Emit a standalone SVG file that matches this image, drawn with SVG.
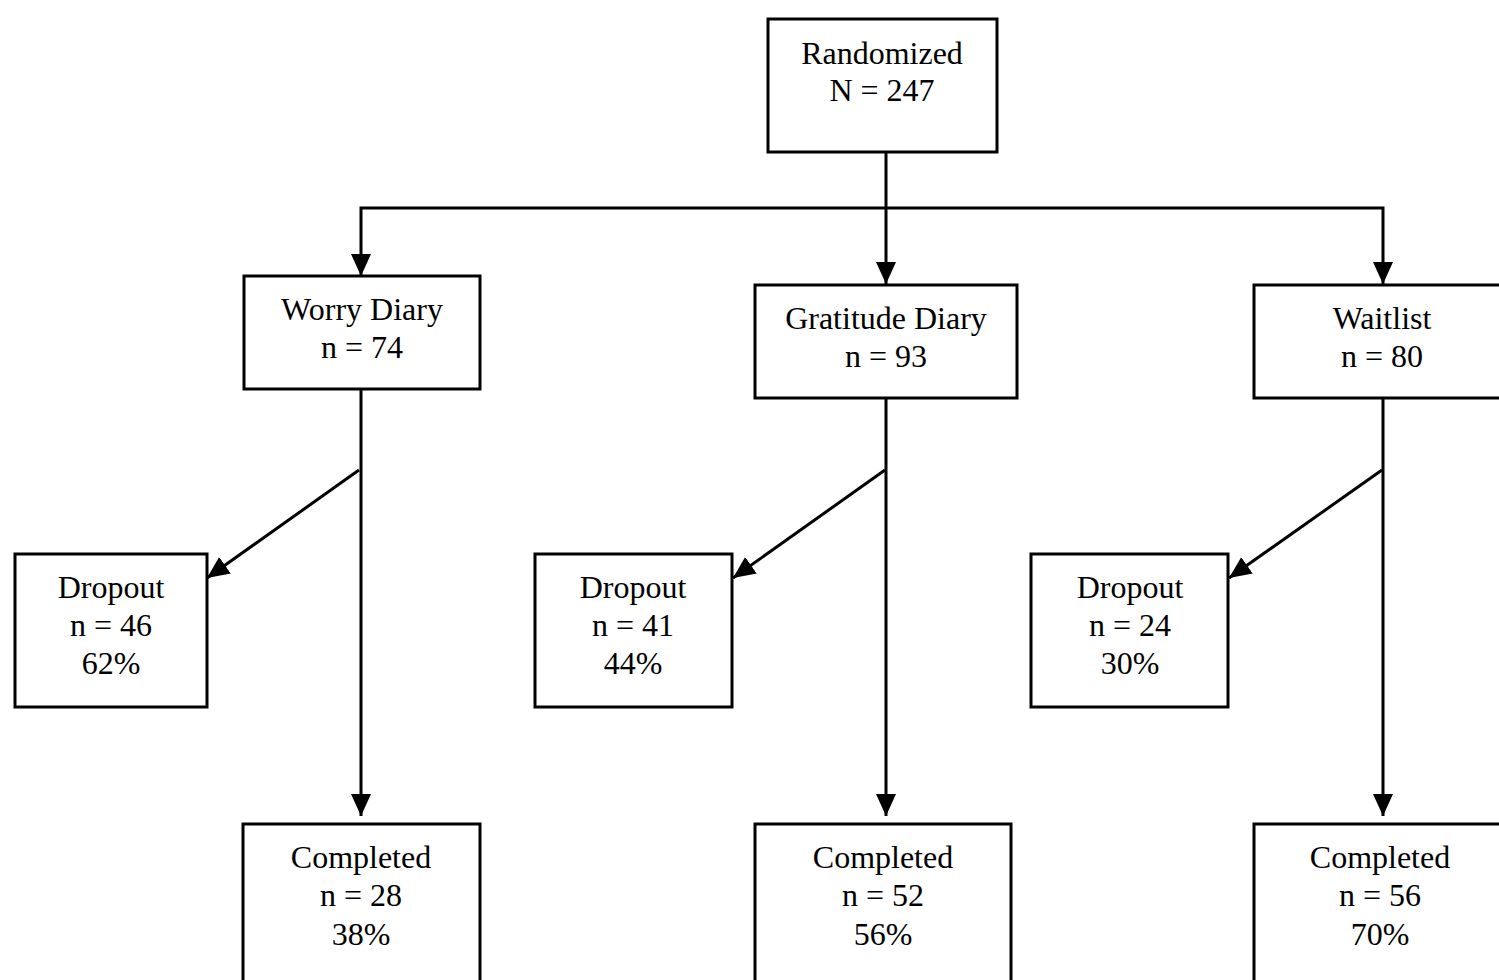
<svg xmlns="http://www.w3.org/2000/svg" width="1499" height="980" viewBox="0 0 1499 980">
<style>
.box{fill:#fff;stroke:#000;stroke-width:3}
.t{font-family:"Liberation Serif","Times New Roman",serif;font-size:32px;fill:#000;text-anchor:middle}
.c{fill:none;stroke:#000;stroke-width:3;stroke-linejoin:miter}
</style>
<defs>
<marker id="ah" markerUnits="userSpaceOnUse" markerWidth="24" markerHeight="22" refX="22" refY="10" orient="auto">
<path d="M0,0 L22,10 L0,20 z" fill="#000"/>
</marker>
</defs>
<rect width="1499" height="980" fill="#fff"/>
<g id="connectors">
<line class="c" x1="886" y1="152" x2="886" y2="284" marker-end="url(#ah)"/>
<path class="c" d="M886,208 L361,208 L361,276" marker-end="url(#ah)"/>
<path class="c" d="M886,208 L1383,208 L1383,284" marker-end="url(#ah)"/>
<line class="c" x1="361" y1="389" x2="361" y2="816" marker-end="url(#ah)"/>
<line class="c" x1="886" y1="398" x2="886" y2="816" marker-end="url(#ah)"/>
<line class="c" x1="1383" y1="398" x2="1383" y2="816" marker-end="url(#ah)"/>
<line class="c" x1="359" y1="470" x2="207" y2="578" marker-end="url(#ah)"/>
<line class="c" x1="885" y1="470" x2="733" y2="578" marker-end="url(#ah)"/>
<line class="c" x1="1382" y1="470" x2="1229" y2="578" marker-end="url(#ah)"/>
</g>
<g id="randomized">
<rect class="box" x="768" y="19" width="229" height="133"/>
<text class="t" x="882" y="64">Randomized</text>
<text class="t" x="882" y="101">N = 247</text>
</g>
<g id="worry">
<rect class="box" x="244" y="276" width="236" height="113"/>
<text class="t" x="362" y="320">Worry Diary</text>
<text class="t" x="362" y="358">n = 74</text>
</g>
<g id="gratitude">
<rect class="box" x="755" y="285" width="262" height="113"/>
<text class="t" x="886" y="329">Gratitude Diary</text>
<text class="t" x="886" y="367">n = 93</text>
</g>
<g id="waitlist">
<rect class="box" x="1254" y="285" width="260" height="113"/>
<text class="t" x="1382" y="329">Waitlist</text>
<text class="t" x="1382" y="367">n = 80</text>
</g>
<g id="dropout-worry">
<rect class="box" x="15" y="554" width="192" height="153"/>
<text class="t" x="111" y="598">Dropout</text>
<text class="t" x="111" y="636">n = 46</text>
<text class="t" x="111" y="674">62%</text>
</g>
<g id="dropout-gratitude">
<rect class="box" x="535" y="554" width="197" height="153"/>
<text class="t" x="633" y="598">Dropout</text>
<text class="t" x="633" y="636">n = 41</text>
<text class="t" x="633" y="674">44%</text>
</g>
<g id="dropout-waitlist">
<rect class="box" x="1031" y="554" width="197" height="153"/>
<text class="t" x="1130" y="598">Dropout</text>
<text class="t" x="1130" y="636">n = 24</text>
<text class="t" x="1130" y="674">30%</text>
</g>
<g id="completed-worry">
<rect class="box" x="243" y="824" width="237" height="200"/>
<text class="t" x="361" y="868">Completed</text>
<text class="t" x="361" y="906">n = 28</text>
<text class="t" x="361" y="945">38%</text>
</g>
<g id="completed-gratitude">
<rect class="box" x="755" y="824" width="256" height="200"/>
<text class="t" x="883" y="868">Completed</text>
<text class="t" x="883" y="906">n = 52</text>
<text class="t" x="883" y="945">56%</text>
</g>
<g id="completed-waitlist">
<rect class="box" x="1254" y="824" width="260" height="200"/>
<text class="t" x="1380" y="868">Completed</text>
<text class="t" x="1380" y="906">n = 56</text>
<text class="t" x="1380" y="945">70%</text>
</g>
</svg>
